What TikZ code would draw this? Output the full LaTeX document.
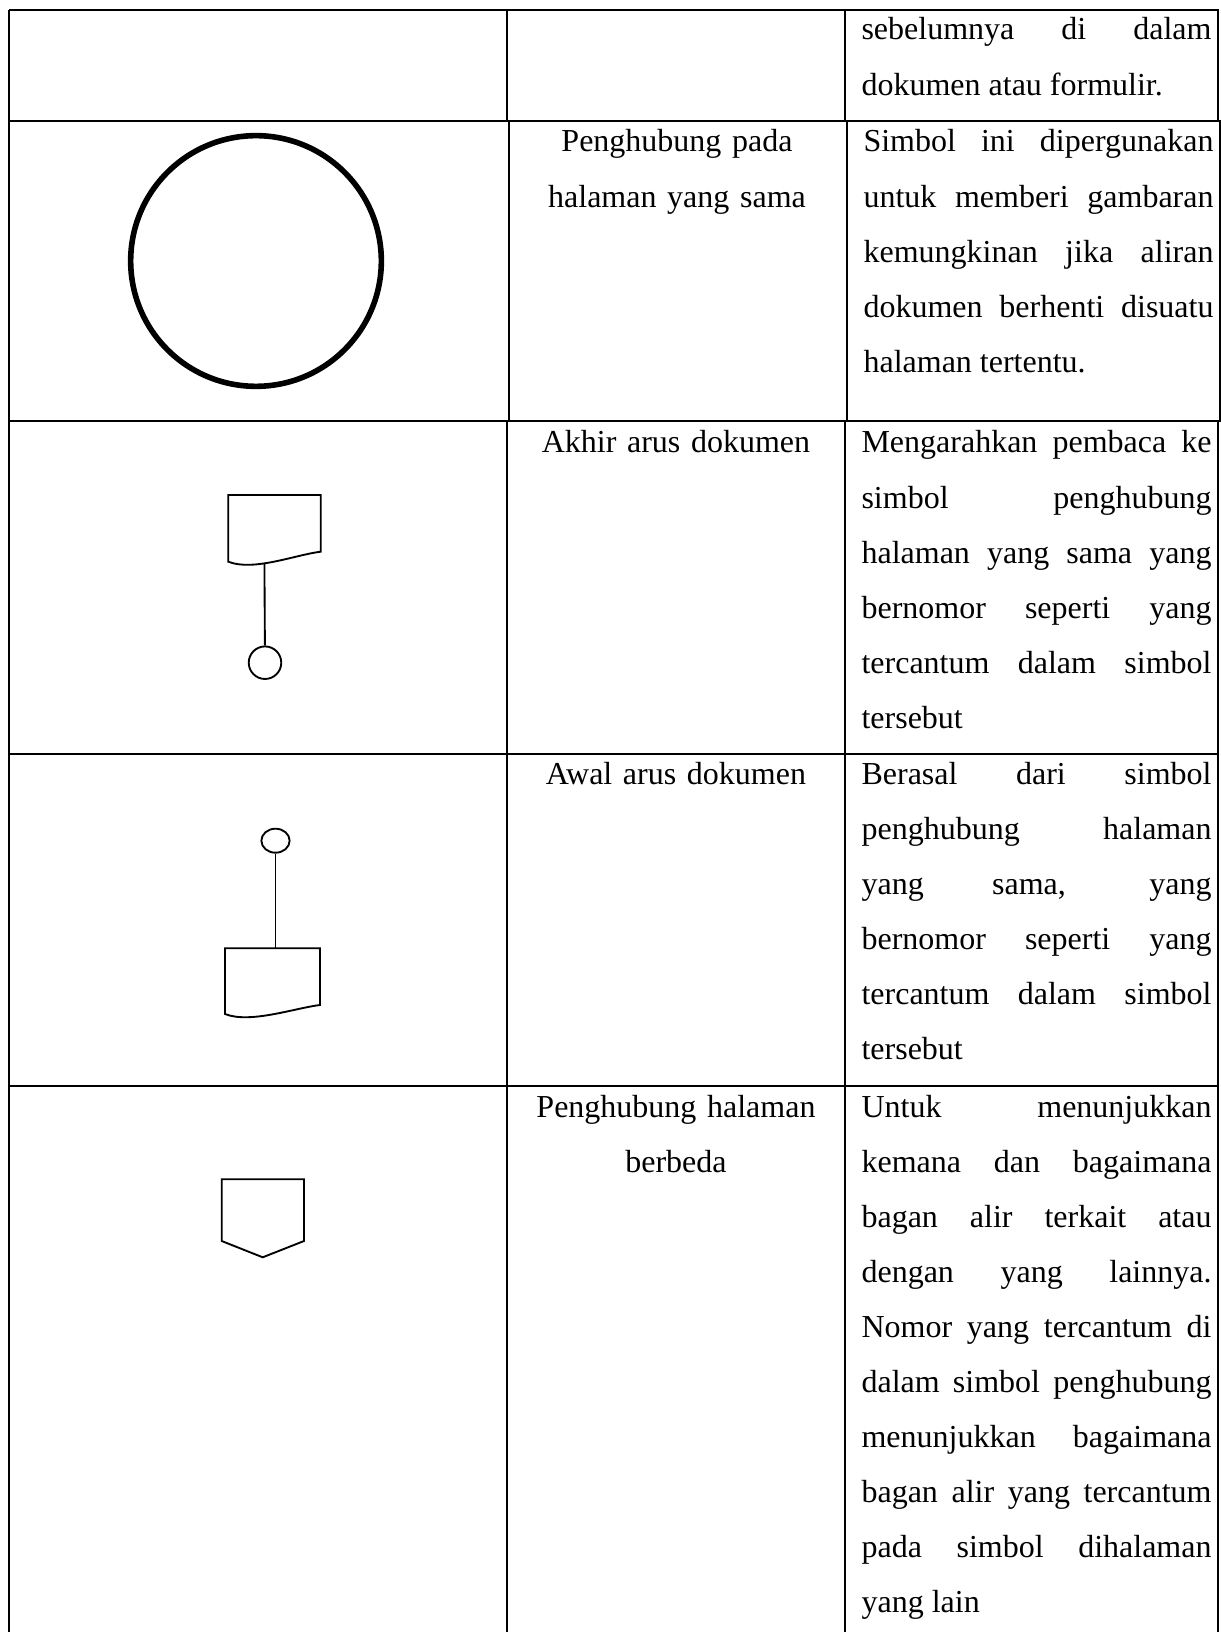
\documentclass[tikz,border=0pt]{standalone}
\usepackage{fontspec}
\setmainfont{Liberation Serif}
\usetikzlibrary{shapes.geometric}

\begin{document}
\begin{tikzpicture}[x=0.375pt,y=-0.375pt,
    rule/.style={line width=0.75pt},
    sym/.style={line width=0.7pt},
    desc/.style={inner sep=0pt,anchor=base west,text width=131.25pt,align=justify,
      font={\fontsize{12}{20.66}\selectfont\tolerance 10000\hyphenpenalty 10000}},
    symname/.style={inner sep=0pt,anchor=base,text width=120pt,align=center,
      font={\fontsize{12}{20.66}\selectfont}}]
  \path[fill=white] (0,0) rectangle (1221,1632);
  \useasboundingbox (0,0) rectangle (1221,1632);

  % table rules
  \draw[rule] (9,10.3) -- (1218.5,10.3);
  \draw[rule] (9,121) -- (1220.5,121);
  \draw[rule] (9,421.5) -- (1220.5,421.5);
  \draw[rule] (9,754) -- (1218.5,754);
  \draw[rule] (9,1086) -- (1218.5,1086);
  \draw[rule] (9,10.3) -- (9,1632);
  \draw[rule] (507,10.3) -- (507,121) (509,121) -- (509,421.5) (507,421.5) -- (507,1632);
  \draw[rule] (844.5,10.3) -- (844.5,121) (846.5,121) -- (846.5,421.5) (844.5,421.5) -- (844.5,1632);
  \draw[rule] (1217.5,10.3) -- (1217.5,121) (1219.5,121) -- (1219.5,421.5) (1217.5,421.5) -- (1217.5,1632);

  % row 1
  \node[desc] (d1) at (861,40) {sebelumnya di dalam\linebreak dokumen atau formulir.};

  % row 2: penghubung pada halaman yang sama
  \node[circle,draw,line width=2.1pt,minimum size=94pt,inner sep=0pt] (samePage) at (256,261) {};
  \node[symname] (n2) at (677,152) {Penghubung pada\\halaman yang sama};
  \node[desc] (d2) at (863,152) {Simbol ini dipergunakan\linebreak untuk memberi gambaran\linebreak
    kemungkinan jika aliran\linebreak dokumen berhenti disuatu\linebreak halaman tertentu.};

  % row 3: akhir arus dokumen
  \draw[sym] (228.3,495) -- (228.3,561.7) .. controls (253.3,571.7) and (295.7,554.7) ..
    (320.7,551.7) coordinate[pos=0.4] (endTail) -- (320.7,495) -- cycle;
  \node[circle,draw,sym,minimum size=12.2pt,inner sep=0pt] (endCon) at (265,662.7) {};
  \draw[sym] (endTail) -- (endCon);
  \node[symname] (n3) at (676,453) {Akhir arus dokumen};
  \node[desc] (d3) at (861,453) {Mengarahkan pembaca ke\linebreak simbol penghubung\linebreak
    halaman yang sama yang\linebreak bernomor seperti yang\linebreak tercantum dalam simbol\linebreak tersebut};

  % row 4: awal arus dokumen
  \node[ellipse,draw,sym,minimum width=10.6pt,minimum height=9pt,inner sep=0pt] (startCon) at (275.5,840.7) {};
  \draw[sym] (225,948.3) -- (225,1014) .. controls (250,1024) and (295,1008) ..
    (320,1005) -- (320,948.3) -- cycle;
  \coordinate (startTop) at (275.5,948.3);
  \draw[sym] (startCon) -- (startTop);
  \node[symname] (n4) at (676,784) {Awal arus dokumen};
  \node[desc] (d4) at (861,784) {Berasal dari simbol\linebreak penghubung halaman\linebreak
    yang sama, yang\linebreak bernomor seperti yang\linebreak tercantum dalam simbol\linebreak tersebut};

  % row 5: penghubung halaman berbeda
  \draw[sym] (221.7,1179.3) -- (304,1179.3) -- (304,1241) -- (262.7,1257.3) -- (221.7,1241) -- cycle;
  \node[symname] (n5) at (676,1117) {Penghubung halaman\\berbeda};
  \node[desc] (d5) at (861,1117) {Untuk menunjukkan\linebreak kemana dan bagaimana\linebreak
    bagan alir terkait atau\linebreak dengan yang lainnya.\linebreak Nomor yang tercantum di\linebreak
    dalam simbol penghubung\linebreak menunjukkan bagaimana\linebreak bagan alir yang tercantum\linebreak
    pada simbol dihalaman\linebreak yang lain};
\end{tikzpicture}
\end{document}
